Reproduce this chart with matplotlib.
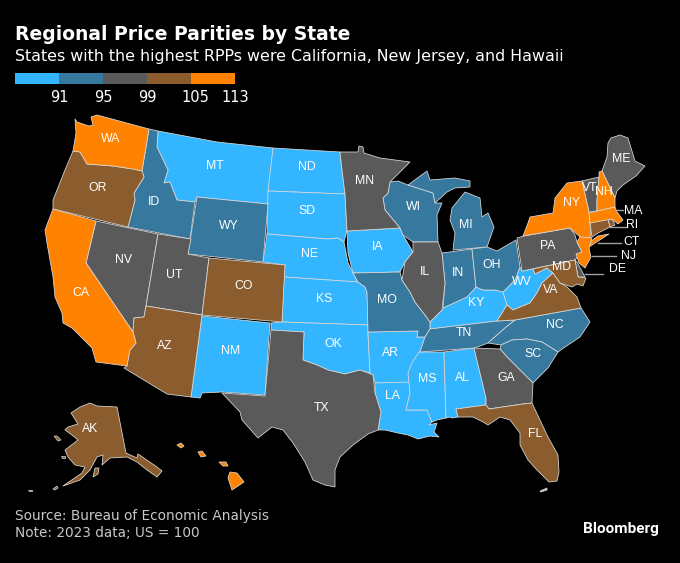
import matplotlib
matplotlib.use("Agg")
import matplotlib.pyplot as plt
from matplotlib.patches import Polygon, Rectangle

# legend
breaks = [91, 95, 99, 105, 113]
colors = ["#33b5ff", "#36789e", "#5a5a5a", "#8a5c2e", "#ff8200"]

# states by legend bin, lowest to highest
bin_states = [
    ["MT", "ND", "SD", "NE", "KS", "OK", "NM", "IA", "AR", "LA", "MS", "AL", "KY", "WV"],
    ["ID", "WY", "WI", "MI", "MI2", "IN", "OH", "MO", "TN", "NC", "SC"],
    ["NV", "UT", "TX", "MN", "IL", "GA", "PA", "VT", "ME", "DE"],
    ["OR", "AZ", "CO", "FL", "VA", "MD", "CT", "RI", "AK", "AK2"],
    ["WA", "CA", "NY", "LI", "NJ", "NH", "MA", "HI1", "HI2", "HI3", "HI4"],
]

# state outlines, traced in picture pixels
shapes = {
    "WA": [(75,119),(77,122),(89,126),(93,125),(91,117),(97,115),(149,129),(142,171),(133,169),(113,166),(87,164),(83,157),(80,152),(73,151),(76,133)],
    "OR": [(73,151),(80,152),(83,157),(87,164),(113,166),(133,169),(142,171),(144,177),(134,193),(135,200),(128,227),(53,209),(53,200),(57,190),(65,170)],
    "CA": [(53,209),(96,221),(86,263),(133,332),(136,343),(130,350),(128,360),(127,366),(96,362),(92,348),(82,338),(72,328),(63,323),(62,313),(55,297),(53,277),(50,260),(47,243),(45,230)],
    "NV": [(96,221),(158,234),(146,306),(144,317),(134,318),(133,332),(86,263)],
    "UT": [(158,234),(191,239),(188,254),(209,258),(202,315),(146,306)],
    "ID": [(149,129),(158,131),(157,147),(168,170),(164,183),(170,182),(177,200),(195,202),(190,239),(128,227),(135,200),(134,193),(144,177),(142,171)],
    "MT": [(158,131),(217,142),(273,148),(268,204),(197,197),(195,202),(177,200),(170,182),(164,183),(168,170),(157,147)],
    "WY": [(197,197),(268,204),(263,262),(188,254)],
    "CO": [(209,258),(285,265),(282,322),(202,315)],
    "NM": [(202,316),(270,323),(265,395),(222,392),(202,393),(200,398),(191,397)],
    "AZ": [(146,306),(202,315),(191,397),(167,394),(124,368),(127,366),(128,360),(130,350),(136,343),(133,332),(134,318),(144,317)],
    "ND": [(273,148),(340,152),(342,170),(345,194),(268,191)],
    "SD": [(268,191),(345,194),(347,230),(344,242),(338,238),(328,239),(267,234)],
    "NE": [(267,234),(328,239),(338,238),(344,242),(348,263),(353,273),(358,282),(284,277),(285,265),(263,262)],
    "KS": [(284,277),(358,282),(365,287),(367,292),(368,325),(282,322)],
    "OK": [(271,323),(282,322),(368,325),(368,333),(370,373),(360,370),(345,374),(328,370),(317,365),(303,360),(304,332),(271,330)],
    "TX": [(271,330),(304,332),(303,360),(317,365),(328,370),(345,374),(360,370),(373,375),(375,393),(381,412),(378,430),(368,434),(353,445),(340,457),(335,470),(335,487),(325,485),(313,480),(305,462),(293,443),(283,430),(272,427),(258,438),(242,420),(240,412),(222,393),(265,396)],
    "MN": [(340,152),(358,152),(359,146),(363,147),(364,153),(380,158),(410,162),(390,182),(388,193),(383,198),(385,210),(400,228),(347,231),(345,194),(342,170)],
    "WI": [(390,182),(398,181),(408,185),(433,193),(435,203),(442,203),(437,215),(438,242),(413,242),(403,235),(400,228),(385,210),(383,198),(388,193)],
    "MI": [(408,185),(427,171),(430,180),(455,178),(470,181),(470,187),(455,188),(447,192),(435,203),(433,193)],
    "MI2": [(452,208),(465,192),(480,198),(482,217),(488,213),(494,227),(487,247),(453,250),(455,233),(450,220)],
    "IL": [(413,242),(438,242),(442,253),(445,283),(442,310),(430,322),(425,315),(415,302),(410,292),(402,280),(405,262),(413,252)],
    "IN": [(442,253),(472,249),(476,287),(467,297),(443,308),(445,283)],
    "OH": [(472,249),(487,247),(497,251),(516,240),(520,267),(515,280),(503,292),(495,290),(483,290),(476,287)],
    "KY": [(430,329),(430,322),(442,310),(443,308),(467,297),(476,287),(483,290),(495,290),(503,292),(507,305),(497,321)],
    "TN": [(430,329),(497,321),(515,320),(505,328),(488,343),(475,348),(420,352),(425,337)],
    "MO": [(353,273),(400,272),(402,280),(410,292),(415,302),(425,315),(430,322),(430,329),(425,337),(417,337),(418,331),(368,332),(367,292),(365,287),(358,282)],
    "IA": [(347,231),(400,228),(403,235),(413,252),(405,262),(400,272),(353,273),(348,253)],
    "AR": [(368,332),(418,331),(417,337),(425,337),(420,352),(410,370),(409,383),(375,383),(373,375),(370,373)],
    "LA": [(375,383),(410,382),(410,393),(406,410),(427,410),(432,422),(429,425),(437,423),(434,432),(439,437),(430,436),(418,439),(408,435),(398,433),(385,430),(378,430),(381,412),(375,393)],
    "MS": [(419,352),(444,352),(446,418),(437,420),(432,422),(427,410),(406,410),(410,393),(408,373),(412,363)],
    "AL": [(444,352),(474,348),(486,398),(486,405),(456,409),(458,417),(452,418),(450,417),(446,418)],
    "GA": [(474,348),(500,349),(507,357),(533,383),(532,403),(523,404),(489,409),(486,405),(486,398)],
    "FL": [(456,409),(486,405),(489,409),(523,404),(532,403),(540,420),(548,437),(558,455),(559,472),(557,481),(549,482),(537,470),(528,460),(520,445),(520,433),(510,420),(500,417),(488,425),(483,422),(473,417),(458,417)],
    "SC": [(501,345),(512,340),(527,339),(542,342),(558,352),(548,368),(533,383),(507,357),(500,349)],
    "NC": [(515,320),(581,308),(590,322),(580,337),(565,347),(558,352),(542,342),(527,339),(512,340),(501,345),(488,343),(505,328)],
    "VA": [(497,321),(507,305),(513,310),(530,303),(537,293),(542,283),(553,273),(560,283),(567,287),(577,297),(581,308),(515,320)],
    "WV": [(520,267),(522,271),(533,269),(535,274),(547,268),(553,273),(542,283),(537,293),(530,303),(513,310),(507,305),(503,292),(515,280)],
    "MD": [(533,269),(575,260),(578,277),(586,278),(583,286),(577,284),(572,287),(560,283),(553,273),(547,268),(535,274)],
    "DE": [(575,260),(577,262),(585,277),(578,277)],
    "PA": [(517,238),(524,236),(570,228),(575,235),(577,242),(582,252),(575,260),(522,271)],
    "NJ": [(577,242),(580,237),(592,238),(589,248),(591,257),(585,268),(579,263),(576,254),(582,252)],
    "NY": [(523,236),(528,223),(530,217),(553,213),(555,198),(567,183),(582,181),(589,212),(590,223),(591,238),(580,237),(570,228)],
    "LI": [(589,247),(609,234),(598,236),(590,242)],
    "VT": [(582,181),(599,177),(597,200),(597,211),(589,212)],
    "NH": [(599,177),(599,172),(602,171),(615,198),(615,207),(597,211),(597,200)],
    "ME": [(602,171),(607,157),(608,143),(611,138),(620,135),(628,138),(635,161),(645,166),(636,176),(623,185),(617,191),(615,198)],
    "MA": [(589,213),(615,207),(617,212),(623,220),(618,224),(612,219),(590,223)],
    "CT": [(590,223),(608,219),(610,227),(598,233),(592,237)],
    "RI": [(608,219),(612,219),(615,225),(610,227)],
    "AK": [(80,407),(90,403),(97,406),(117,407),(126,453),(137,458),(138,454),(157,467),(162,471),(157,477),(147,470),(137,462),(127,457),(110,458),(102,465),(103,455),(97,457),(90,470),(80,480),(63,486),(82,473),(85,467),(75,465),(68,457),(65,450),(78,440),(72,435),(65,430),(68,427),(78,424),(71,413)],
    "AK2": [(95,468),(99,468),(98,474),(93,477)],
    "HI1": [(177,445),(181,443),(184,446),(181,448)],
    "HI2": [(198,452),(202,451),(206,456),(201,457)],
    "HI3": [(219,462),(226,462),(228,466),(223,466)],
    "HI4": [(230,472),(237,473),(244,482),(232,490),(228,478)],
}

# little Alaska islands and the Florida keys
extra_shapes = [
    [(54,436),(57,436),(61,440),(58,441)],
    [(61,456),(65,456),(65,458),(62,458)],
    [(28,490),(32,490),(32,491),(29,491)],
    [(53,489),(57,486),(58,488),(55,490)],
    [(540,491),(547,488),(547,490),(541,492)],
]
extra_colors = ["#8a5c2e", "#8a5c2e", "#8a5c2e", "#8a5c2e", "#bdbdbd"]

# state labels inside the map
labels = {
    "WA": (111,139), "OR": (98,188), "CA": (81,293), "NV": (124,260), "ID": (154,202),
    "MT": (215,166), "WY": (229,226), "UT": (174,275), "AZ": (165,346), "CO": (244,286),
    "NM": (231,351), "ND": (307,167), "SD": (307,211), "NE": (310,254), "KS": (324,299),
    "OK": (333,344), "TX": (322,408), "MN": (365,181), "IA": (378,247), "MO": (387,300),
    "AR": (390,353), "LA": (392,396), "WI": (413,207), "IL": (425,272), "MI": (466,225),
    "IN": (458,273), "OH": (492,265), "KY": (476,303), "TN": (464,333), "MS": (427,379),
    "AL": (462,378), "GA": (506,378), "FL": (535,434), "SC": (533,354), "NC": (555,325),
    "VA": (551,290), "WV": (522,282), "MD": (562,267), "PA": (548,246), "NY": (572,203),
    "VT": (590,188), "NH": (604,192), "ME": (621,159), "AK": (90,429),
}

# labels outside the map, with their leader lines
outside = {
    "MA": ((633,211), (615,210), (623,210)),
    "RI": ((632,225), (610,227), (626,227)),
    "CT": ((631,242), (598,243), (621,243)),
    "NJ": ((629,256), (592,256), (616,256)),
    "DE": ((617,269), (585,274), (603,274)),
}

fig = plt.figure(figsize=(6.8, 5.63), dpi=100, facecolor="black")
ax = fig.add_axes([0, 0, 1, 1])
ax.set_xlim(0, 680)
ax.set_ylim(563, 0)
ax.axis("off")

edge = "#dcdcdc"
for i, names in enumerate(bin_states):
    for name in names:
        ax.add_patch(Polygon(shapes[name], closed=True, facecolor=colors[i],
                             edgecolor=edge, linewidth=0.55, joinstyle="round"))
for pts, c in zip(extra_shapes, extra_colors):
    ax.add_patch(Polygon(pts, closed=True, facecolor=c, edgecolor=edge, linewidth=0.5))

for name, (x, y) in labels.items():
    ax.text(x, y, name, color="white", fontsize=8.8, ha="center", va="center",
            family="Liberation Sans")

for name, (pos, a, b) in outside.items():
    ax.plot([a[0], b[0]], [a[1], b[1]], color="#a0a0a0", lw=1)
    ax.text(pos[0], pos[1], name, color="white", fontsize=8.8, ha="center", va="center",
            family="Liberation Sans")

# legend strip
x0 = 15
w = 44
for i, c in enumerate(colors):
    ax.add_patch(Rectangle((x0 + i * w, 73), w, 11, facecolor=c, edgecolor="none"))
for i, b in enumerate(breaks):
    x = x0 + (i + 1) * w
    if b == 105:
        x += 4
    ax.text(x, 97, str(b), color="white", fontsize=10.5, ha="center", va="center")

ax.text(15, 34, "Regional Price Parities by State", color="white", fontsize=13.5,
        fontweight="bold", va="center", ha="left")
ax.text(15, 56, "States with the highest RPPs were California, New Jersey, and Hawaii",
        color="white", fontsize=11.4, va="center", ha="left")
ax.text(15, 516, "Source: Bureau of Economic Analysis", color="#c8c8c8", fontsize=9.8,
        va="center", ha="left")
ax.text(15, 533, "Note: 2023 data; US = 100", color="#c8c8c8", fontsize=9.8,
        va="center", ha="left")
ax.text(659, 529, "Bloomberg", color="white", fontsize=11, fontweight="bold",
        family="Roboto", va="center", ha="right")

fig.savefig("out.png", dpi=100, facecolor="black")
